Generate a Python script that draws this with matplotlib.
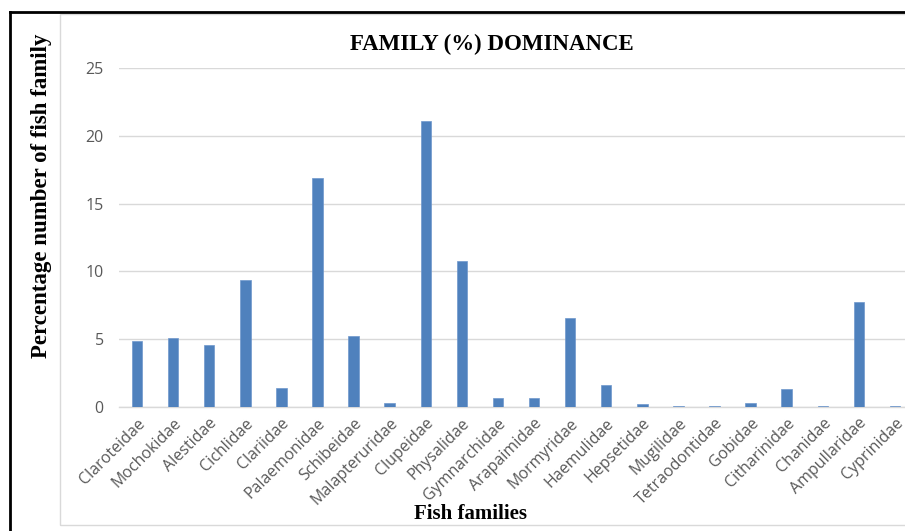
import matplotlib
matplotlib.use("Agg")
import matplotlib.pyplot as plt
from matplotlib.lines import Line2D
from matplotlib.patches import Rectangle

families = ["Claroteidae", "Mochokidae", "Alestidae", "Cichlidae", "Clariidae",
            "Palaemonidae", "Schibeidae", "Malapteruridae", "Clupeidae", "Physalidae",
            "Gymnarchidae", "Arapaimidae", "Mormyridae", "Haemulidae", "Hepsetidae",
            "Mugilidae", "Tetraodontidae", "Gobidae", "Citharinidae", "Chanidae",
            "Ampullaridae", "Cyprinidae"]
percent = [4.9, 5.1, 4.6, 9.4, 1.4, 16.9, 5.2, 0.3, 21.1, 10.8,
           0.65, 0.65, 6.6, 1.6, 0.2, 0.1, 0.1, 0.3, 1.3, 0.1,
           7.75, 0.1]
yticks = [0, 5, 10, 15, 20, 25]

W, H = 905, 531
fig = plt.figure(figsize=(W / 100, H / 100), dpi=100)
fig.patch.set_facecolor("white")

# axes placement in pixels
left_px, right_px = 119, 913
bottom_px, top_px = 407, 68
ax = fig.add_axes([left_px / W, 1 - bottom_px / H,
                   (right_px - left_px) / W, (bottom_px - top_px) / H])

x = list(range(len(families)))
ax.bar(x, percent, width=0.29, color="#4f81bd", edgecolor="#6f97cc", linewidth=0.5, zorder=3)
ax.set_xlim(-0.5, len(families) - 0.5)
ax.set_ylim(0, 25)
ax.set_yticks(yticks)
ax.set_yticklabels([str(v) for v in yticks])
ax.set_xticks(x)
ax.set_xticklabels(families, rotation=45, ha="right", rotation_mode="anchor")

ax.grid(axis="y", color="#d9d9d9", linewidth=1, zorder=0)
for s in ["top", "right", "left"]:
    ax.spines[s].set_visible(False)
ax.spines["bottom"].set_color("#d9d9d9")
ax.spines["bottom"].set_linewidth(1)
ax.tick_params(axis="both", length=0, colors="#595959", labelsize=11.5)
ax.tick_params(axis="y", pad=11)
ax.tick_params(axis="x", pad=6)
for lab in ax.get_xticklabels() + ax.get_yticklabels():
    lab.set_fontfamily("Open Sans")
ax.set_facecolor("none")

serif = "Liberation Serif"
fig.text(492 / W, 1 - 44 / H, "FAMILY (%) DOMINANCE", ha="center", va="center",
         fontsize=16.5, fontweight="bold", family=serif)
fig.text(470 / W, 1 - 514 / H, "Fish families", ha="center", va="center",
         fontsize=15, fontweight="bold", family=serif)
fig.text(42 / W, 1 - 196 / H, "Percentage number of fish family", ha="center", va="center",
         rotation=90, fontsize=16.5, fontweight="bold", family=serif)

# gray chart border
fig.add_artist(Rectangle((60 / W, 1 - 525 / H), (960 - 60) / W, (525 - 14) / H,
                         transform=fig.transFigure, fill=False, edgecolor="#d9d9d9",
                         linewidth=1))
# black frame lines (left and top)
fig.add_artist(Line2D([9.5 / W, 9.5 / W], [0, 1 - 12 / H], transform=fig.transFigure,
                      color="black", linewidth=2))
fig.add_artist(Line2D([9.5 / W, 1], [1 - 12 / H, 1 - 12 / H], transform=fig.transFigure,
                      color="black", linewidth=2))

fig.savefig("out.png", dpi=100)
